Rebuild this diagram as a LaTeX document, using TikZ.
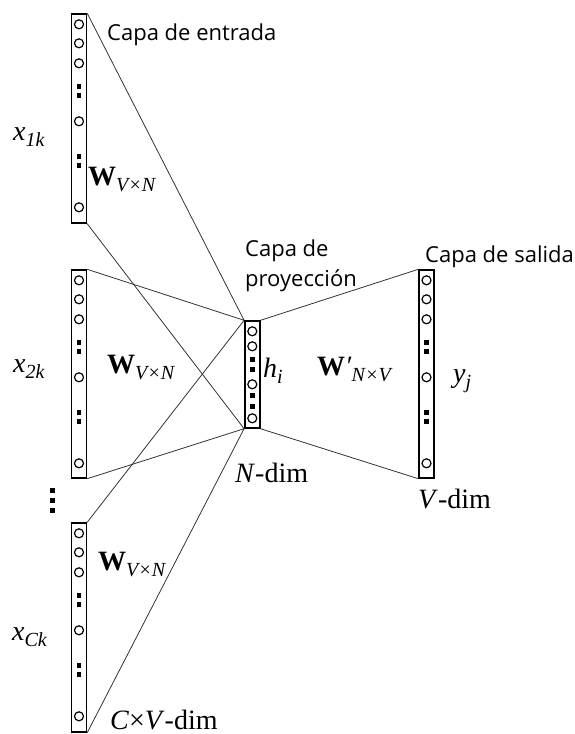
\documentclass[tikz,border=0pt]{standalone}
\usepackage{fontspec}
\setmainfont{Liberation Serif}
\newfontfamily\capafont{Open Sans}
\usetikzlibrary{positioning}

\newcommand{\lowsub}[1]{\raisebox{-6pt}{\fontsize{20}{20}\selectfont\itshape #1}}

\begin{document}
\begin{tikzpicture}[x=1pt, y=-1pt,
        layer/.style={draw, line width=1.4pt, minimum width=15pt, inner sep=0pt},
        link/.style={line width=0.8pt, black!80},
        unit/.style={line width=1.2pt},
        capa/.style={font=\fontsize{22}{30}\selectfont\capafont, anchor=base west,
                     inner sep=0pt, align=left},
        lbl/.style={font=\fontsize{28}{30}\selectfont, anchor=base west, inner sep=0pt}
      ]
        \useasboundingbox (0,0) rectangle (575,734);

        % layers
        \node[layer, minimum height=209pt] (in1) at (79,118.5) {};
        \node[layer, minimum height=208pt] (in2) at (79,374) {};
        \node[layer, minimum height=209pt] (in3) at (79,627.5) {};
        \node[layer, minimum height=107pt] (hid) at (252.3,374.5) {};
        \node[layer, minimum height=208pt] (out) at (426.5,374) {};

        % units of the long layers
        \foreach \b in {in1,in2,in3,out}{
          \foreach \o in {11,30,50,108,194}
            \draw[unit] ([yshift=-\o pt]\b.north) circle (4.5pt);
          \foreach \o in {73,82,143,152}
            \fill ([yshift=-\o pt]\b.north) ++(-2.3pt,-2.3pt) rectangle ++(4.6pt,4.6pt);
        }
        % units of the hidden layer
        \foreach \o in {11,26,64,98}
          \draw[unit] ([yshift=-\o pt]hid.north) circle (4.5pt);
        \foreach \o in {39,49,75,86}
          \fill ([yshift=-\o pt]hid.north) ++(-2.3pt,-2.3pt) rectangle ++(4.6pt,4.6pt);

        % more input layers
        \foreach \o in {490,500,510}
          \fill (52.5,\o) ++(-2.5pt,-2.5pt) rectangle ++(5pt,5pt);

        % connections
        \foreach \b in {in1,in2,in3}{
          \draw[link] (\b.north east) -- (hid.north west);
          \draw[link] (\b.south east) -- (hid.south west);
        }
        \draw[link] (hid.north east) -- (out.north west);
        \draw[link] (hid.south east) -- (out.south west);

        % layer names
        \node[capa] (entrada) at (107,40) {Capa de entrada};
        \node[capa, anchor=north west] (proy) at (245,240) {Capa de\\proyección};
        \node[capa] (salida) at (425,262) {Capa de salida};

        % symbols
        \node[lbl] (x1) at (13,140) {\textit{x}\lowsub{1k}};
        \node[lbl] (x2) at (13,372) {\textit{x}\lowsub{2k}};
        \node[lbl] (x3) at (12,640) {\textit{x}\lowsub{Ck}};
        \node[lbl] (w1) at (88,185) {\textbf{W}\lowsub{V×N}};
        \node[lbl] (w2) at (107,373) {\textbf{W}\lowsub{V×N}};
        \node[lbl] (w3) at (98,570) {\textbf{W}\lowsub{V×N}};
        \node[lbl] (w4) at (317,375) {\textbf{W}\textit{\char"2032}\lowsub{N×V}};
        \node[lbl] (h) at (263,377) {\textit{h}\lowsub{i}};
        \node[lbl] (y) at (453,382) {\textit{y}\lowsub{j}};
        \node[lbl] (ndim) at (235,482) {\textit{N}-dim};
        \node[lbl] (vdim) at (418,508) {\textit{V}-dim};
        \node[lbl] (cvdim) at (110,729) {\textit{C}×\textit{V}-dim};
      \end{tikzpicture}
\end{document}
